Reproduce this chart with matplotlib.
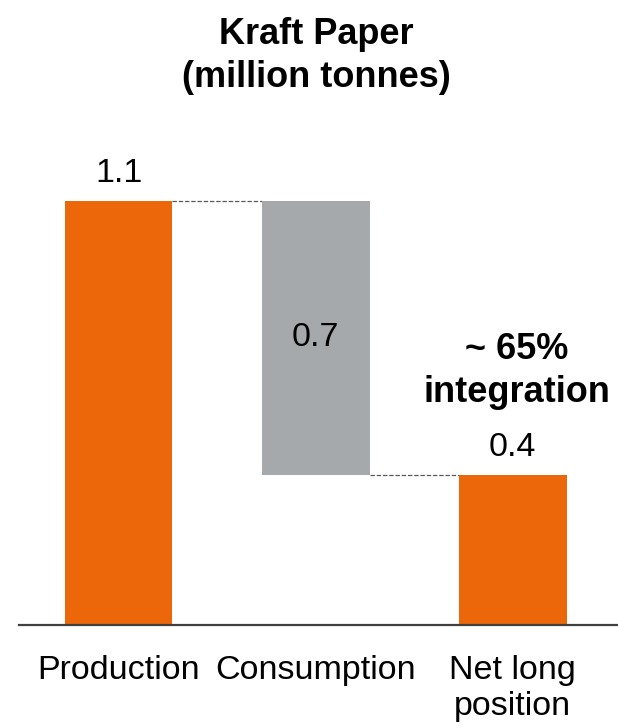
import matplotlib
matplotlib.use("Agg")
import matplotlib.pyplot as plt

plt.rcParams['font.family'] = ['Liberation Sans', 'DejaVu Sans']

categories = ["Production", "Consumption", "Net long\nposition"]
production = 1.10
consumption = 0.71
net_long = production - consumption
value_labels = ["1.1", "0.7", "0.4"]
title = "Kraft Paper\n(million tonnes)"
note = "~ 65%\nintegration"

orange = "#EC670A"
grey = "#A6A9AB"

fig = plt.figure(figsize=(6.18, 7.28), dpi=100)
ax = fig.add_axes([19/618, 103/728, 599/618, 525/728])

w = 0.548
x = [0, 1, 2]
ax.bar(x[0], production, width=w, color=orange, zorder=2)
ax.bar(x[1], consumption, bottom=net_long, width=w, color=grey, zorder=2)
ax.bar(x[2], net_long, width=w, color=orange, zorder=2)

# connectors
ax.plot([x[0] + w/2, x[1] - w/2], [production, production], color="#595959",
        lw=0.9, linestyle=(0, (3.5, 1.5)), zorder=1)
ax.plot([x[1] + w/2, x[2] - w/2], [net_long, net_long], color="#595959",
        lw=0.9, linestyle=(0, (3.5, 1.5)), zorder=1)

fs = 24.5
fsb = 26
ax.annotate(value_labels[0], (x[0], production), xytext=(0, 13.5),
            textcoords="offset points", ha="center", va="baseline", fontsize=fs)
ax.text(x[1], net_long + consumption/2, value_labels[1], ha="center", va="center",
        fontsize=fs)
ax.annotate(value_labels[2], (x[2], net_long), xytext=(0, 13.5),
            textcoords="offset points", ha="center", va="baseline", fontsize=fs)

ax.text(2.02, 0.66, note, ha="center", va="center", fontsize=fsb,
        fontweight="bold", linespacing=1.3, multialignment="center")

ax.set_xlim(-0.505, 2.535)
ax.set_ylim(0, 525/385.5)
ax.set_xticks(x)
ax.set_xticklabels(categories, fontsize=fs, linespacing=1.2)
ax.tick_params(axis="x", length=0, pad=21.5)
ax.set_yticks([])
for s in ["top", "left", "right"]:
    ax.spines[s].set_visible(False)
ax.spines["bottom"].set_color("#404040")
ax.spines["bottom"].set_linewidth(1.6)

fig.text(316/618, 1 - 17/728, title, ha="center", va="top", fontsize=fsb,
         fontweight="bold", linespacing=1.3)

fig.savefig("out.png", dpi=100)
